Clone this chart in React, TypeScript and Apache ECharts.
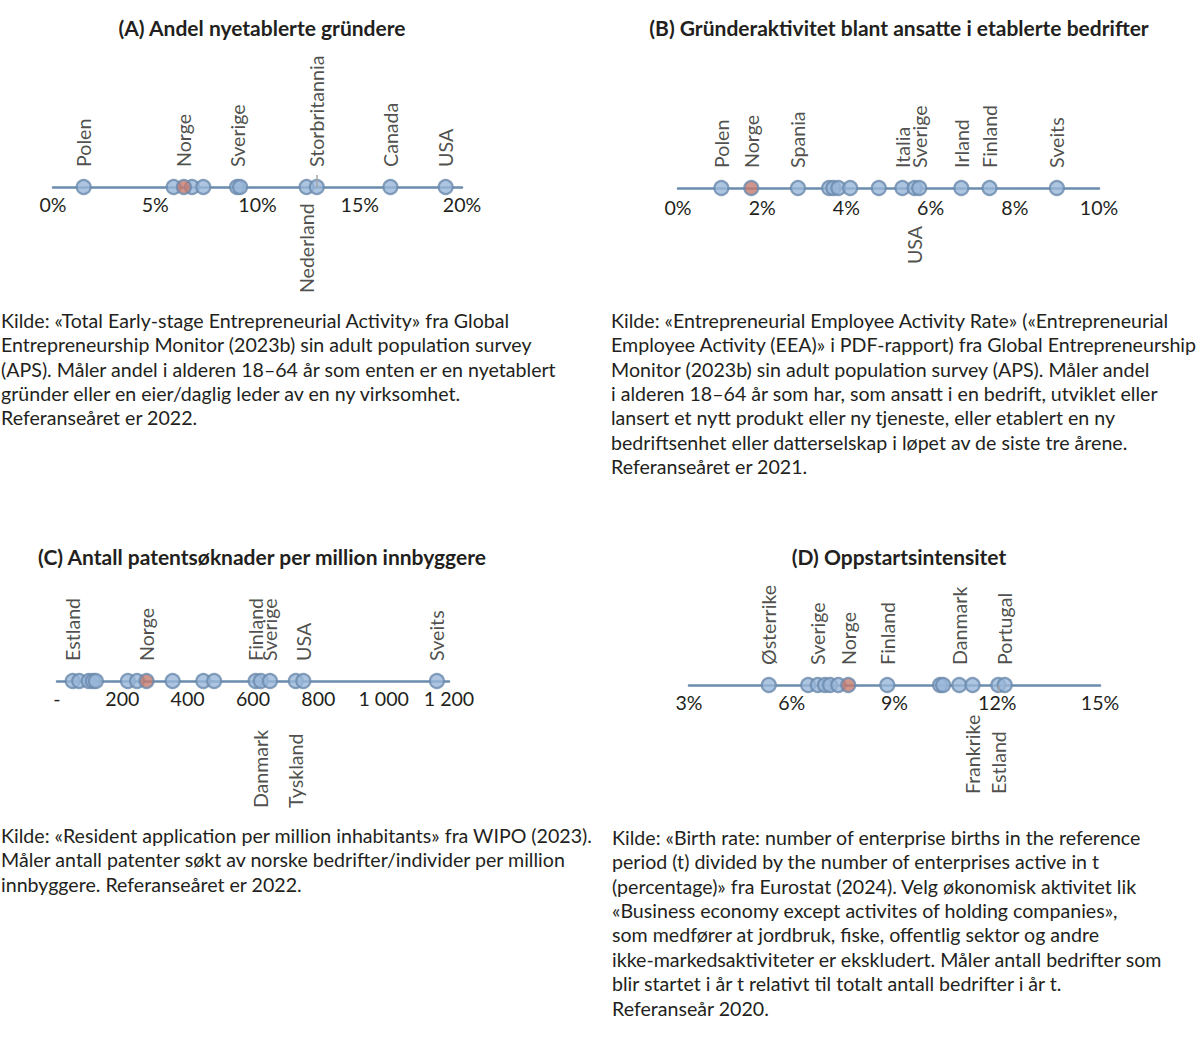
import React, { useEffect, useRef } from "react";
import * as echarts from "echarts";

// ---------- Data ----------
const aLabels = ["Polen", "", "Norge", "", "", "Sverige", "", "Nederland", "Storbritannia", "Canada", "USA"];
const aValues = [1.5, 5.9, 6.4, 6.8, 7.35, 9.0, 9.15, 12.4, 12.9, 16.5, 19.2];
const aBelow = ["Nederland"];
const aTicks = [0, 5, 10, 15, 20];

const bLabels = ["Polen", "Norge", "Spania", "", "", "", "", "", "Italia", "USA", "Sverige", "Irland", "Finland", "Sveits"];
const bValues = [1.03, 1.74, 2.85, 3.59, 3.69, 3.81, 4.09, 4.77, 5.33, 5.62, 5.73, 6.73, 7.4, 9.0];
const bBelow = ["USA"];
const bTicks = [0, 2, 4, 6, 8, 10];

const cLabels = ["Estland", "", "", "", "", "", "", "Norge", "", "", "", "Finland", "Danmark", "Sverige", "Tyskland", "USA", "Sveits"];
const cValues = [48, 68, 97, 110, 119, 217, 245, 274, 354, 448, 481, 608, 624, 652, 731, 754, 1163];
const cBelow = ["Danmark", "Tyskland"];
const cTicks = [0, 200, 400, 600, 800, 1000, 1200];

const dLabels = ["Østerrike", "", "Sverige", "", "", "", "Norge", "Finland", "", "", "Danmark", "Frankrike", "Estland", "Portugal"];
const dValues = [5.33, 6.48, 6.76, 6.97, 7.12, 7.36, 7.65, 8.79, 10.33, 10.42, 10.89, 11.28, 12.03, 12.22];
const dBelow = ["Frankrike", "Estland"];
const dTicks = [3, 6, 9, 12, 15];

const focusCountry = "Norge";

const titles = [
  "(A) Andel nyetablerte gründere",
  "(B) Gründeraktivitet blant ansatte i etablerte bedrifter",
  "(C) Antall patentsøknader per million innbyggere",
  "(D) Oppstartsintensitet",
];

const sourceA = [
  "Kilde: «Total Early-stage Entrepreneurial Activity» fra Global",
  "Entrepreneurship Monitor (2023b) sin adult population survey",
  "(APS). Måler andel i alderen 18–64 år som enten er en nyetablert",
  "gründer eller en eier/daglig leder av en ny virksomhet.",
  "Referanseåret er 2022.",
];
const sourceB = [
  "Kilde: «Entrepreneurial Employee Activity Rate» («Entrepreneurial",
  "Employee Activity (EEA)» i PDF-rapport) fra Global Entrepreneurship",
  "Monitor (2023b) sin adult population survey (APS). Måler andel",
  "i alderen 18–64 år som har, som ansatt i en bedrift, utviklet eller",
  "lansert et nytt produkt eller ny tjeneste, eller etablert en ny",
  "bedriftsenhet eller datterselskap i løpet av de siste tre årene.",
  "Referanseåret er 2021.",
];
const sourceC = [
  "Kilde: «Resident application per million inhabitants» fra WIPO (2023).",
  "Måler antall patenter søkt av norske bedrifter/individer per million",
  "innbyggere. Referanseåret er 2022.",
];
const sourceD = [
  "Kilde: «Birth rate: number of enterprise births in the reference",
  "period (t) divided by the number of enterprises active in t",
  "(percentage)» fra Eurostat (2024). Velg økonomisk aktivitet lik",
  "«Business economy except activites of holding companies»,",
  "som medfører at jordbruk, fiske, offentlig sektor og andre",
  "ikke-markedsaktiviteter er ekskludert. Måler antall bedrifter som",
  "blir startet i år t relativt til totalt antall bedrifter i år t.",
  "Referanseår 2020.",
];

// ---------- Styles ----------
const FONT = 'Lato, "Open Sans", sans-serif';
const TEXT = "#231f20";
const LINE = "#6b8cae";
const FILL = "#98b6d8";
const BORDER = "#6a8aad";
const FOCUS = "#c47a6e";
const LEADER = "#a6a6a6";
const FS = 19.6;
const TITLE_FS = 21;
const HALF = 30;

type Panel = {
  labels: string[];
  values: number[];
  below: string[];
  ticks: number[];
  left: number;
  width: number;
  axisY: number;
  belowDist: number;
  labelMargin: number;
  fmt: (v: number) => string;
  leader?: { name: string; dy: number };
};

const pct = (v: number) => `${v}%`;
const thousands = (v: number) =>
  v === 0 ? "-" : String(v).replace(/\B(?=(\d{3})+(?!\d))/g, " ");

const panels: Panel[] = [
  { labels: aLabels, values: aValues, below: aBelow, ticks: aTicks, left: 53, width: 409, axisY: 187, belowDist: 98, labelMargin: 7, fmt: pct, leader: { name: "Storbritannia", dy: 0.4 } },
  { labels: bLabels, values: bValues, below: bBelow, ticks: bTicks, left: 678, width: 421, axisY: 188, belowDist: 68, labelMargin: 9, fmt: pct },
  { labels: cLabels, values: cValues, below: cBelow, ticks: cTicks, left: 57, width: 392, axisY: 681, belowDist: 119, labelMargin: 7, fmt: thousands },
  { labels: dLabels, values: dValues, below: dBelow, ticks: dTicks, left: 689, width: 411, axisY: 685, belowDist: 101, labelMargin: 7, fmt: pct, leader: { name: "Estland", dy: -0.27 } },
];

function buildOption() {
  const grid: any[] = [];
  const xAxis: any[] = [];
  const yAxis: any[] = [];
  const series: any[] = [];

  panels.forEach((p, i) => {
    grid.push({ left: p.left, width: p.width, top: p.axisY - HALF, height: 2 * HALF, containLabel: false });
    const step = p.ticks[1] - p.ticks[0];
    xAxis.push({
      gridIndex: i,
      type: "value",
      position: "bottom",
      offset: -HALF,
      min: p.ticks[0],
      max: p.ticks[p.ticks.length - 1],
      interval: step,
      axisLine: { show: true, onZero: false, lineStyle: { color: LINE, width: 2.5 } },
      axisTick: { show: false },
      splitLine: { show: false },
      axisLabel: {
        show: true,
        formatter: p.fmt,
        fontSize: FS,
        fontFamily: FONT,
        color: TEXT,
        margin: p.labelMargin,
        showMinLabel: true,
        showMaxLabel: true,
      },
    });
    yAxis.push({ gridIndex: i, type: "value", min: -1, max: 1, show: false });

    const items = p.values.map((v, k) => {
      const name = p.labels[k];
      const isBelow = p.below.includes(name);
      const isFocus = name === focusCountry;
      const item: any = {
        value: [v, 0],
        name,
        itemStyle: { color: isFocus ? FOCUS : FILL, borderColor: BORDER, borderWidth: 2.2 },
        _focus: isFocus,
      };
      if (name) {
        item.label = {
          show: true,
          formatter: name,
          rotate: 90,
          align: "left",
          verticalAlign: "middle",
          position: isBelow ? "bottom" : "top",
          distance: isBelow ? p.belowDist : 12,
          fontSize: FS,
          fontFamily: FONT,
          color: TEXT,
        };
      }
      return item;
    });
    items.sort((a: any, b: any) => (a._focus ? 1 : 0) - (b._focus ? 1 : 0));
    items.forEach((it: any) => delete it._focus);

    const s: any = {
      type: "scatter",
      xAxisIndex: i,
      yAxisIndex: i,
      symbol: "circle",
      symbolSize: 14,
      data: items,
      label: { show: false },
      emphasis: { disabled: true },
    };
    if (p.leader) {
      const idx = p.labels.indexOf(p.leader.name);
      const v = p.values[idx];
      s.markLine = {
        silent: true,
        symbol: "none",
        label: { show: false },
        lineStyle: { color: LEADER, width: 1.5, type: "solid" },
        data: [[{ coord: [v, 0] }, { coord: [v, p.leader.dy] }]],
      };
    }
    series.push(s);
  });

  const titlePos = [
    [262, 27],
    [899, 27],
    [262, 556],
    [899, 556],
  ];
  const graphic: any[] = titles.map((t, i) => ({
    type: "text",
    x: titlePos[i][0],
    y: titlePos[i][1],
    style: {
      text: t,
      fontSize: TITLE_FS,
      fontWeight: "bold",
      fontFamily: FONT,
      fill: TEXT,
      textAlign: "center",
      align: "center",
      textVerticalAlign: "middle",
      verticalAlign: "middle",
    },
  }));

  const sources: [string[], number, number][] = [
    [sourceA, 1, 308],
    [sourceB, 611, 308],
    [sourceC, 1, 823],
    [sourceD, 612, 825],
  ];
  sources.forEach(([lines, x, y]) => {
    graphic.push({
      type: "text",
      x,
      y,
      style: {
        text: lines.join("\n"),
        fontSize: FS,
        fontFamily: FONT,
        fill: TEXT,
        lineHeight: 24.4,
        textAlign: "left",
        align: "left",
        textVerticalAlign: "top",
        verticalAlign: "top",
      },
    });
  });

  return {
    animation: false,
    backgroundColor: "#ffffff",
    grid,
    xAxis,
    yAxis,
    series,
    graphic,
  };
}

export default function App() {
  const ref = useRef<HTMLDivElement>(null);
  useEffect(() => {
    if (!ref.current) return;
    const chart = echarts.init(ref.current, undefined, { renderer: "svg" });
    chart.setOption(buildOption() as any);
    return () => chart.dispose();
  }, []);
  return (
    <div
      ref={ref}
      style={{ position: "absolute", left: 0, top: 0, width: 1200, height: 1040, background: "#fff" }}
    />
  );
}
